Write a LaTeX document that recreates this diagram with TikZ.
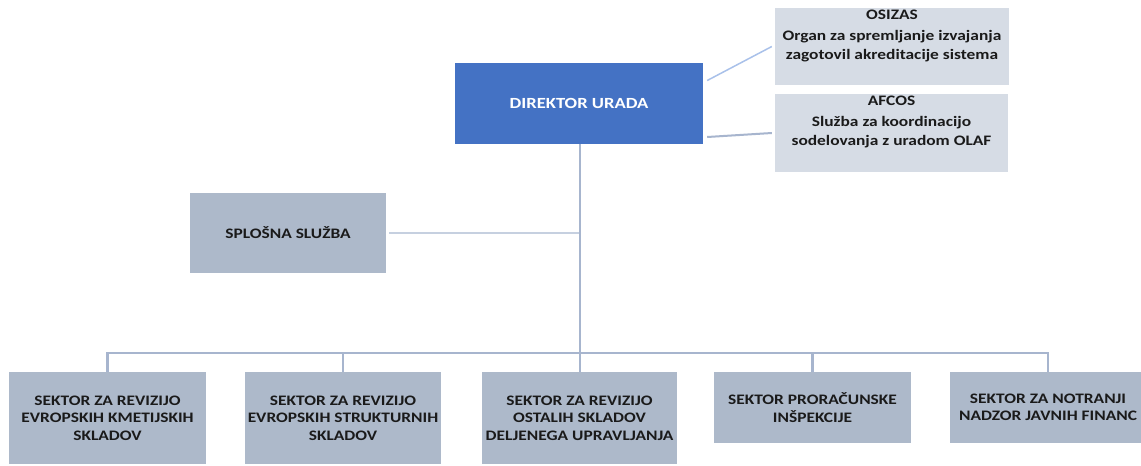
\documentclass[tikz,border=0pt]{standalone}
\usepackage{fontspec}
\setmainfont{Carlito}[FakeStretch=1.2]
\definecolor{dirblue}{HTML}{4472C4}
\definecolor{secgray}{HTML}{ADB9CA}
\definecolor{lightbox}{HTML}{D6DCE5}
\definecolor{linegray}{HTML}{A7B5CE}
\definecolor{linelight}{HTML}{C6D0E0}
\definecolor{lineblue}{HTML}{A9C1EA}
\definecolor{txtdark}{HTML}{1A1A1A}
\tikzset{
  box/.style={draw=none, inner sep=0pt, align=center, font=\fontsize{14.5}{17.5}\selectfont\bfseries, text=txtdark},
  secbox/.style={box, fill=secgray, minimum width=196pt},
  lbox/.style={draw=none, fill=lightbox, inner sep=0pt, minimum width=234pt, minimum height=77pt},
  ltext/.style={align=center, inner sep=0pt, anchor=north, font=\fontsize{14.5}{19}\selectfont\bfseries, text=txtdark},
  conn/.style={draw=linegray, line width=2.2pt},
  connthin/.style={draw=linelight, line width=1.8pt},
}
\begin{document}
\begin{tikzpicture}[x=1pt,y=-1pt]
\clip (0,0) rectangle (1141,466);
\fill[white] (0,0) rectangle (1141,466);
% nodes
\node[box, fill=dirblue, text=white, minimum width=248pt, minimum height=81pt, font=\fontsize{15.5}{18}\selectfont\bfseries] (dir) at (579,103.5) {DIREKTOR URADA};
\node[lbox] (osi) at (892,46.5) {};
\node[ltext] (osit) at ([yshift=-2pt]osi.north) {OSIZAS\\[2pt]Organ za spremljanje izvajanja\\zagotovil akreditacije sistema};
\node[lbox, minimum width=233pt, minimum height=78pt] (afc) at (891.5,133) {};
\node[ltext] (afct) at ([yshift=-2pt]afc.north) {AFCOS\\[2pt]Služba za koordinacijo\\sodelovanja z uradom OLAF};
\node[secbox, minimum height=80pt] (spl) at (288,233) {SPLOŠNA SLUŽBA};
\node[secbox, minimum width=197pt, minimum height=92pt] (s1) at (107.5,418) {SEKTOR ZA REVIZIJO\\EVROPSKIH KMETIJSKIH\\SKLADOV};
\node[secbox, minimum height=92pt] (s2) at (343,418) {SEKTOR ZA REVIZIJO\\EVROPSKIH STRUKTURNIH\\SKLADOV};
\node[secbox, minimum width=195pt, minimum height=92pt] (s3) at (579.5,418) {SEKTOR ZA REVIZIJO\\OSTALIH SKLADOV\\DELJENEGA UPRAVLJANJA};
\node[secbox, minimum width=197pt, minimum height=71pt] (s4) at (812.5,407.5) {SEKTOR PRORAČUNSKE\\INŠPEKCIJE};
\node[secbox, minimum height=71pt] (s5) at (1048,407.5) {SEKTOR ZA NOTRANJI\\NADZOR JAVNIH FINANC};
\coordinate (bus) at (580,353);
% connectors
\draw[draw=lineblue, line width=1.5pt] ([xshift=4pt,yshift=23pt]dir.east) -- ([xshift=-3pt,yshift=0pt]osi.west);
\draw[conn, line width=2pt] ([xshift=4pt,yshift=-33.5pt]dir.east) -- ([xshift=-3pt]afc.west);
\draw[connthin] ([xshift=3pt]spl.east) -- (spl.east -| bus);
\draw[conn, line width=2.8pt] (dir.south -| bus) -- (s3.north -| bus);
\draw[conn] (s1.north) |- (bus) -| (s5.north);
\draw[conn] (s2.north) -- (s2.north |- bus);
\draw[conn] (s4.north) -- (s4.north |- bus);
\end{tikzpicture}
\end{document}
